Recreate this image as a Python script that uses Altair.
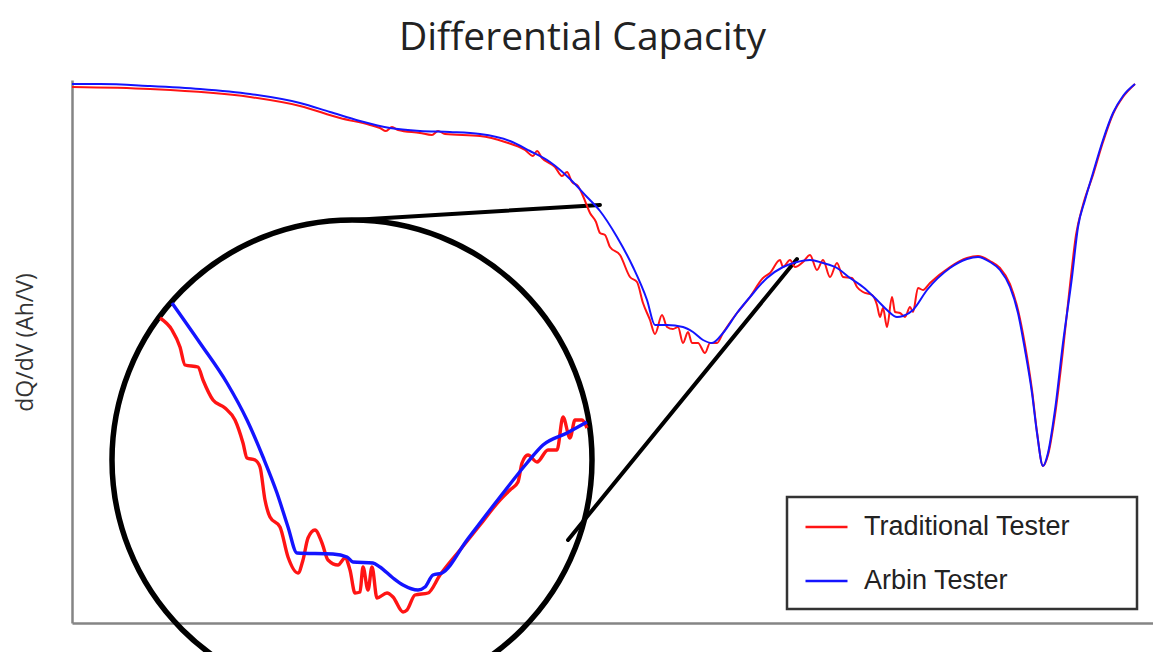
import altair as alt
import pandas as pd

# ---- main curves (arbitrary units) ----
trad_x = [2, 80, 180, 230, 270, 300, 310, 316, 322, 328, 350, 362, 368, 375, 410, 435, 455, 463, 467, 472,
          485, 492, 497, 502, 508, 513, 520, 526, 530, 535, 540, 550, 560, 567, 573, 580, 585, 592, 597, 603,
          608, 613, 618, 622, 628, 635, 640, 647, 653, 667, 680, 693, 700, 710, 713, 720, 725, 733, 740, 747,
          753, 760, 767, 773, 782, 787, 793, 802, 807, 810, 813, 817, 822, 825, 830, 835, 840, 843, 848, 853,
          860, 880, 897, 908, 920, 930, 940, 948, 955, 962, 967, 973, 978, 985, 993, 1000, 1006, 1013, 1023,
          1033, 1043, 1053, 1065]
trad_y = [538, 536, 528, 519, 507, 500, 497, 494, 498, 495, 492, 490, 494, 491, 489, 483, 475, 469, 474, 467,
          458, 449, 453, 443, 439, 429, 412, 403, 392, 390, 378, 370, 348, 343, 322, 305, 291, 310, 298, 296,
          298, 282, 293, 282, 282, 272, 282, 282, 292, 312, 328, 347, 352, 365, 358, 365, 358, 363, 370, 355,
          365, 348, 362, 348, 347, 338, 333, 330, 320, 308, 317, 298, 328, 313, 312, 308, 318, 313, 337, 335,
          342, 358, 367, 369, 364, 357, 341, 315, 280, 235, 193, 159, 170, 210, 275, 340, 390, 420, 450,
          483, 511, 528, 541]

arbin_x = [2, 30, 80, 130, 180, 230, 260, 290, 320, 350, 380, 410, 440, 460, 480, 500, 517, 530, 547, 563,
           577, 585, 597, 613, 623, 633, 642, 653, 667, 680, 697, 713, 727, 740, 753, 767, 780, 793, 807, 817,
           827, 833, 843, 857, 880, 897, 908, 920, 930, 940, 948, 955, 962, 967, 973, 978, 985, 993, 1002,
           1008, 1015, 1023, 1033, 1043, 1053, 1065]
arbin_y = [541, 541, 539, 536, 531, 522, 513, 504, 497, 494, 493, 491, 484, 474, 463, 446, 428, 414, 388, 358,
           325, 300, 300, 298, 293, 285, 282, 292, 312, 328, 347, 358, 363, 365, 362, 357, 347, 338, 325, 315,
           308, 309, 315, 335, 357, 366, 368, 363, 355, 338, 312, 275, 232, 192, 159, 172, 215, 282, 348,
           398, 425, 452, 485, 512, 529, 541]

# ---- magnified detail shown inside the loupe ----
zoom_trad_x = [90, 102, 110, 115, 128, 133, 143, 155, 165, 173, 177, 185, 190, 195, 200, 210, 218, 228, 233,
               238, 245, 252, 258, 268, 275, 280, 285, 290, 293, 298, 302, 307, 317, 323, 333, 337, 345, 358,
               370, 390, 410, 430, 440, 448, 452, 458, 467, 478, 487, 493, 500, 505, 512, 517]
zoom_trad_y = [307, 295, 278, 260, 258, 245, 225, 217, 205, 182, 167, 165, 158, 125, 108, 98, 68, 52, 65,
               87, 95, 82, 65, 60, 67, 55, 32, 33, 58, 35, 58, 27, 32, 28, 13, 15, 30, 32,
               50, 75, 100, 125, 135, 143, 162, 170, 163, 175, 175, 208, 187, 205, 205, 197]
zoom_arbin_x = [102, 130, 157, 177, 193, 207, 218, 227, 263, 277, 283, 303, 310, 323, 333, 348, 355, 363, 372,
                397, 430, 457, 473, 497, 517]
zoom_arbin_y = [322, 282, 242, 205, 168, 132, 98, 72, 71, 68, 63, 62, 58, 47, 40, 35, 38, 50, 52,
                85, 128, 162, 180, 192, 203]

# annotations in data units: loupe centre, connector lines, legend frame
loupe_x = [282]
loupe_y = [165]
conn_x = [266, 727]
conn_y = [404, 366]
conn_x2 = [530, 498]
conn_y2 = [420, 85]
frame_x = [717]
frame_x2 = [1067]
frame_y = [128]
frame_y2 = [16]

series_names = ["Traditional Tester", "Arbin Tester"]
series_colors = ["#ff1414", "#1414ff"]

main_red = pd.DataFrame({"x": trad_x, "y": trad_y, "series": series_names[0]})
main_blue = pd.DataFrame({"x": arbin_x, "y": arbin_y, "series": series_names[1]})
zoom_red = pd.DataFrame({"x": zoom_trad_x, "y": zoom_trad_y, "series": series_names[0]})
zoom_blue = pd.DataFrame({"x": zoom_arbin_x, "y": zoom_arbin_y, "series": series_names[1]})
loupe = pd.DataFrame({"x": loupe_x, "y": loupe_y})
conn = pd.DataFrame({"x": conn_x, "y": conn_y, "x2": conn_x2, "y2": conn_y2})
frame = pd.DataFrame({"x": frame_x, "y": frame_y, "x2": frame_x2, "y2": frame_y2})

axis_style = dict(domain=True, domainColor="#858585", domainWidth=2.5, ticks=False,
                  labels=False, grid=False)
X = alt.X("x:Q", scale=alt.Scale(domain=[2, 1083], nice=False, zero=False),
          axis=alt.Axis(title=None, **axis_style))
Y = alt.Y("y:Q", scale=alt.Scale(domain=[2, 545], nice=False, zero=False),
          axis=alt.Axis(title="dQ/dV (Ah/V)", titleFont="Open Sans", titleFontSize=23,
                        titleFontWeight="normal", titleColor="#333333", titlePadding=35,
                        titleY=262, **axis_style))
C = alt.Color("series:N",
              scale=alt.Scale(domain=series_names, range=series_colors),
              legend=alt.Legend(title=None, orient="none", legendX=715, legendY=417,
                                padding=17, rowPadding=27, symbolType="stroke", symbolSize=1764,
                                symbolStrokeWidth=2.5, labelFont="Liberation Sans",
                                labelFontSize=27, labelColor="#222222", labelOffset=15,
                                clipHeight=26, labelLimit=600))

def line(df, width):
    return alt.Chart(df).mark_line(strokeWidth=width, interpolate="monotone").encode(x=X, y=Y, color=C)

circle = alt.Chart(loupe).mark_point(shape="circle", filled=False, stroke="black",
                                     strokeWidth=5.5, size=230400, opacity=1).encode(x=X, y=Y)
rules = alt.Chart(conn).mark_rule(color="black", strokeWidth=4, strokeCap="round").encode(
    x=X, y=Y, x2="x2:Q", y2="y2:Q")
box = alt.Chart(frame).mark_rect(fill="white", stroke="#333333", strokeWidth=2.5).encode(
    x=X, y=Y, x2="x2:Q", y2="y2:Q")

chart = alt.layer(
    rules, circle,
    line(main_red, 2), line(main_blue, 2),
    line(zoom_red, 3.4), line(zoom_blue, 3.4),
    box,
).properties(
    width=1081, height=543,
    title=alt.TitleParams("Differential Capacity", font="Open Sans", fontSize=39,
                          fontWeight="normal", color="#222222", anchor="middle",
                          dx=-30, offset=-9, baseline="alphabetic"),
    autosize=alt.AutoSizeParams(type="none"),
    padding={"left": 64, "top": 72, "right": 0, "bottom": 29},
).configure_view(stroke=None)

chart.save("out.html", embed_options={"renderer": "svg", "actions": False})
